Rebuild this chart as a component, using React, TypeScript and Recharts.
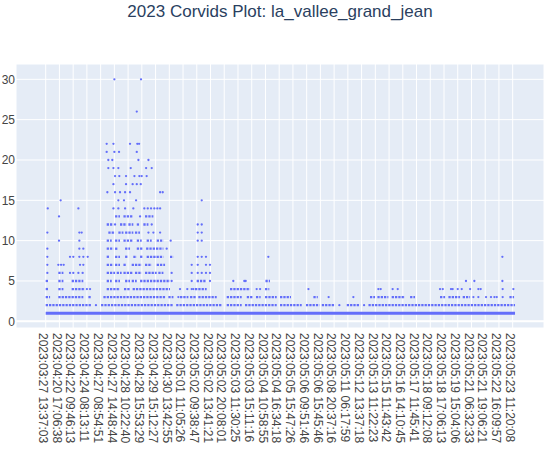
import React from 'react';
import { ComposedChart, Scatter, XAxis, YAxis, CartesianGrid, ReferenceLine } from 'recharts';

// Category tick labels (one every N detections on the categorical time axis)
const tickLabels = [
  '2023:03:27 13:37:03', '2023:04:20 17:06:38', '2023:04:22 09:46:13', '2023:04:24 08:13:11',
  '2023:04:27 08:54:51', '2023:04:27 14:48:44', '2023:04:28 10:22:40', '2023:04:28 15:53:29',
  '2023:04:29 15:12:27', '2023:04:30 13:42:55', '2023:05:01 11:05:26', '2023:05:02 09:38:47',
  '2023:05:02 13:41:21', '2023:05:02 20:08:01', '2023:05:03 11:30:25', '2023:05:03 15:11:16',
  '2023:05:04 10:58:55', '2023:05:04 16:34:18', '2023:05:05 15:47:26', '2023:05:06 09:51:46',
  '2023:05:06 15:45:46', '2023:05:08 20:37:16', '2023:05:11 06:17:59', '2023:05:12 13:37:18',
  '2023:05:13 11:22:23', '2023:05:15 11:43:42', '2023:05:16 14:10:45', '2023:05:17 11:45:41',
  '2023:05:18 09:12:08', '2023:05:18 17:06:13', '2023:05:19 15:04:06', '2023:05:21 06:32:33',
  '2023:05:21 19:06:21', '2023:05:22 16:09:57', '2023:05:23 11:20:08',
];
const tickPositions = tickLabels.map((_, i) => i);
const yTicks = [0, 5, 10, 15, 20, 25, 30];

// Stretches where detections of one count are packed so densely that they read as a band.
// [count, fromTick, toTick] (x in tick-label units along the categorical axis)
const runsLow: [number, number, number][] = [
  [1, 0, 34.17],
  [2, 0, 3.35], [2, 4.03, 9.3], [2, 9.5, 12.81], [2, 13.18, 14.27], [2, 14.51, 16.82], [2, 17.06, 18.64],
  [2, 18.95, 19.93], [2, 20.1, 21.07], [2, 21.92, 22.89], [2, 23.5, 34.17],
  [3, 0, 0.32], [3, 0.92, 2.74], [3, 3.11, 3.35], [3, 4.2, 8.74], [3, 8.93, 9.3], [3, 9.78, 10.39],
  [3, 10.51, 10.99], [3, 11.11, 12.45], [3, 13.18, 14.27], [3, 14.64, 15.05], [3, 15.31, 15.65],
  [3, 15.97, 16.82], [3, 17.06, 17.86], [3, 19.49, 19.81], [3, 23.61, 23.98], [3, 24.15, 24.95],
  [3, 25.19, 26.16], [3, 26.53, 26.89], [3, 28.71, 29.08], [3, 29.32, 30.17], [3, 30.36, 30.9],
  [3, 33.76, 34.1],
];
const runsMid: [number, number, number][] = [
  [4, 0, 0.19], [4, 0.92, 1.29], [4, 1.89, 2.86], [4, 4.44, 5.41], [4, 5.7, 6.14], [4, 6.33, 9.05],
  [4, 10.87, 11.72], [4, 13.42, 14.88], [4, 15.97, 16.28],
  [5, 0, 0.19], [5, 0.92, 1.29], [5, 1.89, 2.74], [5, 4.44, 4.81], [5, 5.05, 5.41], [5, 5.78, 6.14],
  [5, 6.26, 6.63], [5, 6.87, 9.05], [5, 10.99, 11.7], [5, 16.0, 16.33],
  [6, 0.92, 1.29], [6, 4.44, 5.05], [6, 5.17, 5.53], [6, 5.66, 6.38], [6, 6.5, 6.99], [6, 7.23, 8.08], [6, 8.2, 8.57],
  [7, 4.44, 4.93], [7, 5.05, 5.41], [7, 5.66, 5.9], [7, 6.26, 6.99], [7, 7.23, 7.72], [7, 8.08, 8.69],
  [8, 4.44, 4.68], [8, 5.05, 5.41], [8, 5.78, 6.02], [8, 6.38, 6.63], [8, 6.87, 7.11], [8, 7.35, 8.57], [8, 9.05, 9.3],
  [9, 4.44, 4.93], [9, 5.05, 5.29], [9, 5.78, 6.14], [9, 6.63, 7.11], [9, 7.31, 8.57],
  [10, 4.44, 4.81], [10, 5.05, 5.41], [10, 5.66, 6.38], [10, 6.63, 6.99], [10, 7.35, 7.72], [10, 8.08, 8.57],
  [11, 4.56, 5.05], [11, 5.29, 5.66], [11, 5.78, 6.38], [11, 6.5, 6.87],
  [12, 4.44, 4.93], [12, 5.41, 5.9], [12, 6.02, 6.38], [12, 6.63, 6.87], [12, 7.11, 7.48],
  [13, 5.05, 5.41], [13, 5.66, 6.38], [13, 7.23, 7.84],
];

// Isolated detections: [tick position, count]
const pointsLow: [number, number][] = [
  [3.66, 2], [21.38, 2], [23.18, 2],
  [9.66, 3], [20.6, 3], [22.4, 3], [31.14, 3], [31.5, 3], [32.06, 3], [32.42, 3], [32.67, 3], [32.84, 3], [33.27, 3],
  [3.0, 4], [3.23, 4], [9.78, 4], [10.31, 4], [10.63, 4], [10.75, 4], [15.36, 4], [15.61, 4], [19.13, 4],
  [24.22, 4], [24.39, 4], [25.26, 4], [25.63, 4], [28.71, 4], [28.91, 4], [29.51, 4], [29.63, 4], [30.0, 4],
  [30.29, 4], [30.9, 4], [31.5, 4], [31.67, 4], [33.27, 4], [34.05, 4],
  [9.17, 5], [10.63, 5], [11.96, 5], [13.66, 5], [14.46, 5], [14.56, 5], [30.6, 5], [31.21, 5], [33.25, 5],
  [0.12, 6], [1.77, 6], [2.01, 6], [2.38, 6], [2.69, 6], [9.17, 6], [10.63, 6], [11.07, 6], [11.36, 6], [11.67, 6], [11.96, 6],
  [0.12, 7], [0.92, 7], [1.12, 7], [1.31, 7], [2.5, 7], [2.74, 7], [10.63, 7], [11.07, 7], [11.67, 7], [11.96, 7],
  [0.12, 8], [1.77, 8], [2.01, 8], [2.45, 8], [2.74, 8], [3.06, 8], [11.07, 8], [11.36, 8], [11.67, 8], [16.21, 8], [33.25, 8],
  [0.12, 9], [2.45, 9], [2.74, 9], [8.81, 9],
];
const pointsHigh: [number, number][] = [
  [0.97, 10], [2.45, 10], [9.1, 10], [11.07, 10], [11.36, 10],
  [0.12, 11], [2.45, 11], [2.62, 11], [7.48, 11], [7.84, 11], [8.33, 11], [11.07, 11], [11.36, 11],
  [5.05, 12], [7.72, 12], [11.07, 12], [11.36, 12],
  [0.97, 13], [6.87, 13],
  [0.15, 14], [2.38, 14], [4.93, 14], [5.29, 14], [5.78, 14], [6.38, 14], [7.18, 14], [7.43, 14], [7.67, 14],
  [7.91, 14], [8.13, 14], [8.33, 14],
  [1.09, 15], [5.29, 15], [5.7, 15], [6.58, 15], [11.36, 15],
  [4.49, 16], [5.05, 16], [5.41, 16], [5.78, 16], [6.14, 16], [8.33, 16], [8.52, 16],
  [4.93, 17], [5.85, 17], [6.33, 17], [6.63, 17], [6.92, 17],
  [5.05, 18], [5.36, 18], [5.85, 18], [6.46, 18], [6.82, 18], [6.99, 18], [7.35, 18],
  [4.56, 19], [4.93, 19], [5.29, 19], [6.19, 19], [7.31, 19], [7.72, 19],
  [4.56, 20], [4.85, 20], [6.75, 20], [7.48, 20],
  [4.44, 21], [5.0, 21], [5.34, 21], [6.63, 21],
  [4.44, 22], [4.93, 22], [6.14, 22], [6.67, 22], [6.8, 22],
  [6.63, 26],
  [5.0, 30], [6.94, 30],
];

const FONT = '"Liberation Sans", Arial, sans-serif';
const MARKER = '#636efa';

const points = [...pointsLow, ...pointsHigh].map(([x, y]) => ({ x, y }));
const runs = [...runsLow, ...runsMid];

const RotTick = (props: any) => {
  const { x, y, payload } = props;
  return (
    <text
      x={x}
      y={y}
      dy={6.8}
      transform={`rotate(90 ${x} ${y})`}
      textAnchor="start"
      fontSize={12}
      fill="#444"
      fontFamily={FONT}
    >
      {tickLabels[payload.value]}
    </text>
  );
};

const Dot = (props: any) => <circle cx={props.cx} cy={props.cy} r={1.15} fill={MARKER} />;

export default function App() {
  return (
    <div style={{ position: 'absolute', left: 0, top: 0, width: 550, height: 449, background: '#fff' }}>
      <ComposedChart
        width={550}
        height={449}
        data={points}
        margin={{ top: 64, right: 6, bottom: 0, left: 0 }}
      >
        <CartesianGrid stroke="#fff" strokeWidth={1} fill="#E5ECF6" fillOpacity={1} />
        <XAxis
          type="number"
          dataKey="x"
          domain={[-2.162, 36.28]}
          ticks={tickPositions}
          interval={0}
          allowDataOverflow
          height={121}
          tickLine={false}
          axisLine={false}
          tickSize={0}
          tickMargin={5}
          tick={<RotTick />}
        />
        <YAxis
          type="number"
          dataKey="y"
          domain={[-0.83, 31.9]}
          ticks={yTicks}
          allowDataOverflow
          width={16}
          tickLine={false}
          axisLine={false}
          tickSize={0}
          tickMargin={1}
          tick={{ fontSize: 12, fill: '#444', fontFamily: FONT }}
        />
        <ReferenceLine y={0} stroke="#fff" strokeWidth={2} />
        {runs.map(([c, a, b], i) => (
          <ReferenceLine
            key={'r' + i}
            segment={[{ x: a, y: c }, { x: b, y: c }]}
            stroke={MARKER}
            strokeWidth={c === 1 ? 2.8 : 2.3}
            strokeDasharray={c === 1 ? undefined : '2.3 1'}
          />
        ))}
        <Scatter data={points} dataKey="y" isAnimationActive={false} shape={<Dot />} />
      </ComposedChart>
      <svg width={550} height={30} style={{ position: 'absolute', left: 0, top: 0 }}>
        <text x={280} y={16.5} textAnchor="middle" fontSize={17} fill="#2a3f5f" fontFamily={FONT}>
          2023 Corvids Plot: la_vallee_grand_jean
        </text>
      </svg>
    </div>
  );
}
